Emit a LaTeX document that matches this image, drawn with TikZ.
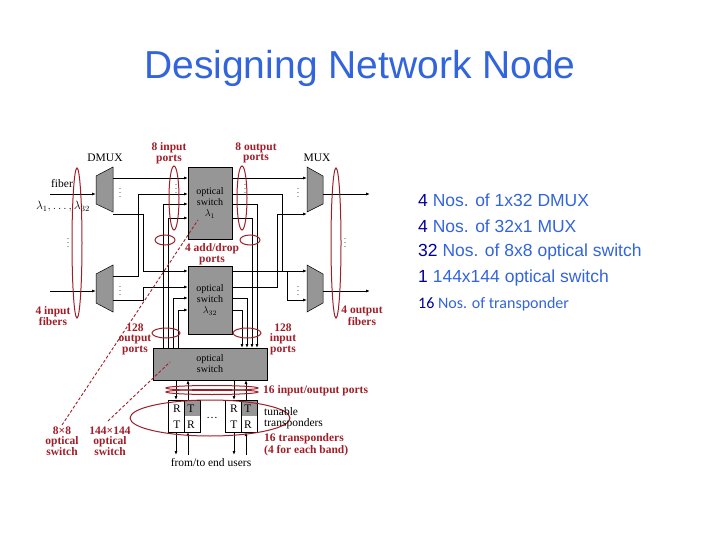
\documentclass[tikz,border=0pt]{standalone}
\usepackage{fontspec}
\setmainfont{Liberation Serif}
\newfontfamily\sansf{Liberation Sans}
\newfontfamily\carl{Carlito}
\usetikzlibrary{arrows.meta}
\definecolor{dred}{RGB}{160,30,40}
\definecolor{ttl}{RGB}{50,100,220}
\definecolor{sw}{RGB}{150,150,150}
\begin{document}
\begin{tikzpicture}[x=1pt,y=-1pt,
 ln/.style={line width=0.9pt},
 ar/.style={line width=0.9pt,-{Latex[length=4pt,width=3pt]}},
 box/.style={draw,fill=sw,line width=0.5pt,inner sep=0pt},
 ell/.style={draw=dred,line width=1pt},
 lab/.style={text=dred,font=\fontsize{11.5}{10.5}\selectfont\bfseries,align=center,inner sep=0pt},
 blk/.style={font=\fontsize{11.5}{11}\selectfont,inner sep=0pt},
 rt/.style={anchor=west,font=\sansf\fontsize{17.5}{17}\selectfont,text=ttl,inner sep=0pt}]
\useasboundingbox (0,0) rectangle (720,540);
\node[font=\sansf\fontsize{39}{39}\selectfont,text=ttl] (title) at (360,68) {Designing Network Node};
\node[rt] (t1) at (418,200) {\textcolor{blue!60!black}{4} Nos. of 1x32 DMUX};
\node[rt] (t2) at (418,226) {\textcolor{blue!60!black}{4} Nos. of 32x1 MUX};
\node[rt] (t3) at (418,252) {\textcolor{blue!60!black}{32} Nos. of 8x8 optical switch};
\node[rt] (t4) at (418,278) {\textcolor{blue!60!black}{1} 144x144 optical switch};
\node[anchor=west,font=\carl\fontsize{16}{16}\selectfont,text=ttl,inner sep=0pt] (t5) at (418,304) {\textcolor{blue!60!black}{16} Nos. of transponder};
% DMUX / MUX
\draw[fill=sw,line width=0.5pt] (96,176)--(113,167)--(113,212)--(96,204)--cycle;
\draw[fill=sw,line width=0.5pt] (96,274)--(113,265)--(113,312)--(96,303)--cycle;
\draw[fill=sw,line width=0.5pt] (307,167)--(323,176)--(323,204)--(307,212)--cycle;
\draw[fill=sw,line width=0.5pt] (307,265)--(323,274)--(323,303)--(307,312)--cycle;
% switches
\node[box,minimum width=44pt,minimum height=72pt,align=center,font=\fontsize{10}{11}\selectfont] (s1) at (210,203) {optical\\switch\\$\lambda_1$};
\node[box,minimum width=44pt,minimum height=68pt,align=center,font=\fontsize{10}{11}\selectfont] (s32) at (210,300) {optical\\switch\\$\lambda_{32}$};
\node[box,minimum width=114pt,minimum height=32pt,align=center,font=\fontsize{10}{11}\selectfont] (big) at (210,364) {optical\\switch};
% fibers
\draw[ar] (50,194)--(96,194); \draw[ar] (50,291)--(96,291);
\draw[ar] (323,194)--(370,194); \draw[ar] (323,291)--(370,291);
% dmux to switches
\draw[ar] (113,178)--(188,178);
\draw[ar] (113,276)--(138,276)--(138,194)--(188,194);
\draw[ar] (113,214)--(143,214)--(143,271)--(188,271);
\draw[ar] (113,300)--(143,300)--(143,287)--(188,287);
% big switch to switches
\draw[ar] (163,348)--(163,204)--(188,204);
\draw[ar] (168,348)--(168,218)--(188,218);
\draw[ar] (173,348)--(173,298)--(188,298);
\draw[ar] (178,348)--(178,310)--(188,310);
% switches to mux / big
\draw[ar] (232,178)--(307,178);
\draw[ar] (232,194)--(282,194)--(282,271)--(307,271);
\draw[ar] (232,287)--(277,287)--(277,214)--(307,214);
\draw[ar] (232,271)--(287,271)--(287,300)--(307,300);
\draw[ar] (232,204)--(257,204)--(257,348);
\draw[ar] (232,218)--(252,218)--(252,348);
\draw[ar] (232,298)--(247,298)--(247,348);
\draw[ar] (232,310)--(242,310)--(242,348);
% dots
\foreach \p in {(120,190),(120,288),(176,186),(245,186),(298,190),(298,288),(68,240),(345,240)}
 \node[inner sep=0pt,font=\fontsize{8}{8}\selectfont] at \p {$\vdots$};
% transponders
\foreach \x/\n in {168/a,225/b}{
 \fill[white] (\x,400) rectangle ++(32,32);
 \fill[sw] (\x+16,400) rectangle ++(16,16);
 \draw[line width=0.5pt] (\x,400) rectangle ++(32,32);
 \draw[line width=0.5pt] (\x+16,400)--(\x+16,432);
 \node[blk] (\n1) at (\x+9,409) {R}; \node[blk] at (\x+23,409) {T};
 \node[blk] at (\x+9,425) {T}; \node[blk] at (\x+23,425) {R};
}
\node[blk] (dd) at (212,418) {\dots};
\foreach \x in {176,234}{\draw[ar] (\x,380)--(\x,400); \draw[ar] (\x,432)--(\x,455);}
\foreach \x in {188,246}{\draw[ar] (\x,400)--(\x,380); \draw[ar] (\x,455)--(\x,432);}
% ellipses
\draw[ell] (77,243) ellipse (5 and 75);
\draw[ell] (336,243) ellipse (5 and 75);
\draw[ell] (174,198) ellipse (5 and 32);
\draw[ell] (242,198) ellipse (5 and 32);
\draw[ell] (165,240) ellipse (10 and 5);
\draw[ell] (250,240) ellipse (10 and 5);
\draw[ell] (166,333) ellipse (14 and 5);
\draw[ell] (247,333) ellipse (14 and 5);
\draw[ell] (212,388) ellipse (46 and 2.5);
\draw[ell] (212,392) ellipse (46 and 2.5);
\draw[ell] (210,418) ellipse (80 and 18);
\draw[dred,densely dashed,line width=0.9pt] (62,425)--(198,220);
\draw[dred,densely dashed,line width=0.9pt] (108,421)--(170,362);
% labels
\node[blk] (dm) at (105,158) {DMUX};
\node[blk] (mx) at (317,158) {MUX};
\node[blk] (fb) at (62,184) {fiber};
\node[blk] (lm) at (63,207) {$\lambda_1,\ldots,\lambda_{32}$};
\node[lab] at (169,153) {8 input\\ports};
\node[lab] at (256,153) {8 output\\ports};
\node[lab] at (212,254) {4 add/drop\\ports};
\node[lab] at (53,316) {4 input\\fibers};
\node[lab] at (362,316) {4 output\\fibers};
\node[lab] at (135,339) {128\\output\\ports};
\node[lab] at (283,339) {128\\input\\ports};
\node[lab,anchor=west] at (263,391) {16 input/output ports};
\node[blk,anchor=west,align=left] at (264,418) {tunable\\transponders};
\node[lab,anchor=west,align=left] at (264,445) {16 transponders\\(4 for each band)};
\node[lab] at (62,441) {8\texttimes8\\optical\\switch};
\node[lab] at (110,441) {144\texttimes144\\optical\\switch};
\node[blk] at (211,463) {from/to end users};
\end{tikzpicture}
\end{document}
